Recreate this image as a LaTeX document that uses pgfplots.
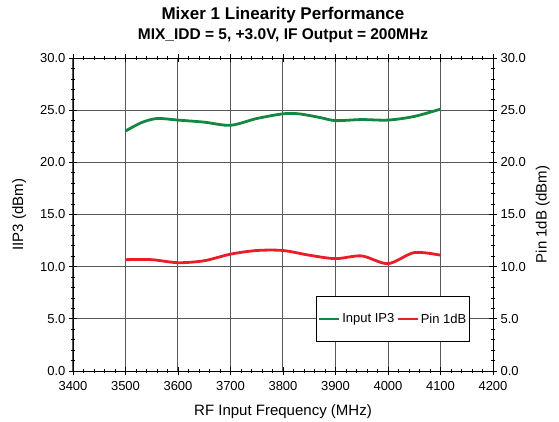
\documentclass[border=0pt]{standalone}
\usepackage{fontspec}
\setmainfont{Liberation Sans}
\usepackage{pgfplots}
\pgfplotsset{compat=1.18}
\definecolor{ipgreen}{RGB}{20,135,65}
\definecolor{pinred}{RGB}{235,30,40}
\begin{document}
\begin{tikzpicture}
\pgfplotsset{
  common/.style={
    scale only axis, width=420pt, height=313pt,
    at={(0pt,0pt)}, anchor=south west,
    xmin=3400, xmax=4200, ymin=0, ymax=30,
    xtick={3400,3500,...,4200}, ytick={0,5,...,30},
    minor x tick num=4, minor y tick num=4,
    tick align=center,
    major tick length=8pt, minor tick length=4pt,
    ticklabel style={font=\fontsize{13}{15}\selectfont},
    yticklabel style={/pgf/number format/.cd, fixed, fixed zerofill, precision=1},
    xticklabel style={yshift=-3pt, /pgf/number format/.cd, set thousands separator={}},
    /pgf/number format/assume math mode=true,
    axis line style={black, line width=0.9pt},
    tick style={black, line width=0.7pt},
    label style={font=\fontsize{15}{17}\selectfont},
  }
}
\begin{axis}[common,
  axis y line*=left,
  xmajorgrids, ymajorgrids,
  major grid style={black!65, line width=1pt},
  xlabel={RF Input Frequency (MHz)},
  ylabel={IIP3 (dBm)},
  xlabel style={yshift=-7pt},
  ylabel style={yshift=7pt},
  title={\textbf{\fontsize{17}{19}\selectfont Mixer 1 Linearity Performance}\\[4pt]\textbf{\fontsize{15.5}{18}\selectfont MIX\_IDD = 5, +3.0V, IF Output = 200MHz}},
  title style={align=center, at={(0.5,1)}, anchor=south, yshift=6pt},
  legend columns=2,
  legend style={at={(0.762,0.166)}, anchor=center, draw=black, line width=0.9pt,
    font=\fontsize{13}{15}\selectfont, inner xsep=1pt, inner ysep=15pt,
    /tikz/every even column/.append style={column sep=0pt}},
  legend image code/.code={\draw[#1, line width=2.5pt] (0pt,0pt) -- (20pt,0pt);},
]
\addplot[ipgreen, line width=2.8pt, smooth, tension=0.5] coordinates {
(3500,23.0) (3530,23.8) (3560,24.2) (3600,24.05) (3650,23.85) (3700,23.55) (3750,24.2) (3800,24.65) (3830,24.65) (3870,24.3) (3900,24.0) (3950,24.1) (4000,24.05) (4050,24.4) (4100,25.1)
};
\addlegendentry{Input IP3}
\addplot[pinred, line width=2.8pt, smooth, tension=0.5] coordinates {
(3500,10.67) (3550,10.67) (3600,10.38) (3650,10.57) (3700,11.2) (3750,11.55) (3800,11.55) (3850,11.1) (3900,10.77) (3950,11.03) (4000,10.29) (4050,11.35) (4100,11.1)
};
\addlegendentry{Pin 1dB}
\end{axis}
\begin{axis}[common,
  axis y line*=right, axis x line=none,
  ylabel={Pin 1dB (dBm)},
  ylabel style={yshift=-3pt},
]
\end{axis}
\pgfresetboundingbox
\path[use as bounding box] (-73pt,-50pt) rectangle (486pt,371pt);
\end{tikzpicture}
\end{document}
